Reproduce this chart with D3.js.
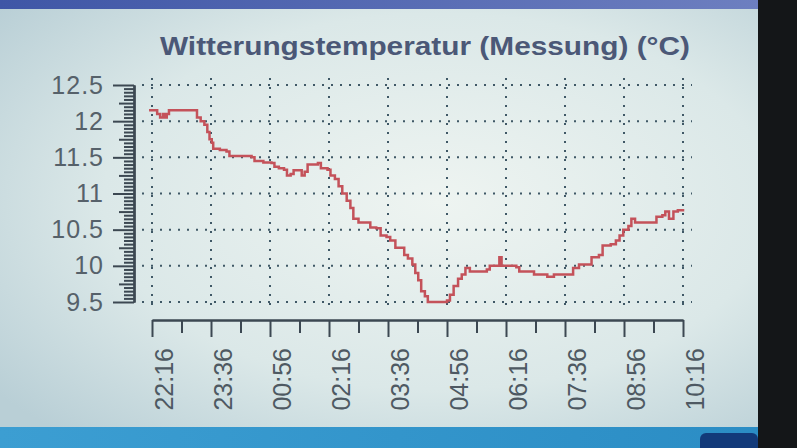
<!DOCTYPE html>
<html><head><meta charset="utf-8">
<script src="https://cdn.jsdelivr.net/npm/d3@7"></script>
<style>html,body{margin:0;padding:0;background:#cfe0e2;overflow:hidden}</style>
</head><body>
<svg id="c" width="797" height="448"></svg>
<script>
const title = "Witterungstemperatur (Messung) (°C)";
const times = ["22:12","22:19","22:23","22:27","22:31","22:33","22:36","22:39","22:50","23:03","23:13","23:17","23:22","23:27","23:31","23:34","23:37","23:39","23:48","23:57","00:01","00:17","00:31","00:35","00:47","00:58","01:02","01:08","01:15","01:19","01:24","01:28","01:35","01:39","01:43","01:47","02:01","02:05","02:14","02:18","02:24","02:29","02:34","02:40","02:45","02:49","02:56","03:07","03:12","03:20","03:26","03:34","03:39","03:46","03:53","03:58","04:03","04:09","04:13","04:17","04:21","04:26","04:30","04:46","04:56","05:00","05:05","05:11","05:16","05:21","05:27","05:40","05:50","05:54","06:06","06:07","06:10","06:23","06:30","06:34","06:47","06:54","07:01","07:12","07:21","07:41","07:47","07:55","08:08","08:12","08:22","08:27","08:38","08:45","08:50","08:55","09:02","09:06","09:11","09:22","09:36","09:40","09:48","09:52","09:57","10:03","10:09","10:16"];
const temps = [12.15,12.15,12.10,12.05,12.10,12.05,12.10,12.15,12.15,12.15,12.15,12.05,12.0,11.95,11.85,11.75,11.7,11.62,11.6,11.58,11.52,11.52,11.5,11.45,11.43,11.42,11.37,11.35,11.33,11.25,11.27,11.32,11.32,11.25,11.3,11.4,11.42,11.35,11.33,11.25,11.2,11.1,11.0,10.9,10.8,10.65,10.6,10.6,10.53,10.52,10.42,10.4,10.35,10.25,10.25,10.15,10.1,10.02,9.9,9.8,9.65,9.58,9.5,9.5,9.52,9.6,9.72,9.82,9.88,9.97,9.92,9.92,9.95,10.0,10.0,10.12,10.0,10.0,9.98,9.92,9.92,9.88,9.88,9.85,9.88,9.88,9.97,10.02,10.02,10.12,10.15,10.28,10.3,10.35,10.42,10.5,10.55,10.65,10.6,10.6,10.6,10.68,10.7,10.75,10.65,10.75,10.77,10.75];
const xTickLabels = ["22:16","23:36","00:56","02:16","03:36","04:56","06:16","07:36","08:56","10:16"];
const yTickLabels = ["9.5","10","10.5","11","11.5","12","12.5"];

function toDate(s){
  const [h,m] = s.split(":").map(Number);
  return new Date(2020,0,h>=12?1:2,h,m);
}
const data = times.map((t,i)=>({t:toDate(t), v:temps[i]}));
const xTicks = xTickLabels.map(toDate);

const svg = d3.select("#c");
const defs = svg.append("defs");
const rg = defs.append("radialGradient").attr("id","bg").attr("cx","55%").attr("cy","45%").attr("r","70%");
rg.append("stop").attr("offset","0%").attr("stop-color","#eef4f1");
rg.append("stop").attr("offset","60%").attr("stop-color","#dbe8e8");
rg.append("stop").attr("offset","100%").attr("stop-color","#b9cfd6");
svg.append("rect").attr("width",797).attr("height",448).attr("fill","url(#bg)");
const tg = defs.append("linearGradient").attr("id","top").attr("x1",0).attr("x2",1);
tg.append("stop").attr("offset","0%").attr("stop-color","#3f56a6");
tg.append("stop").attr("offset","100%").attr("stop-color","#6d7fc0");
svg.append("rect").attr("width",760).attr("height",9).attr("fill","url(#top)");
const bg2 = defs.append("linearGradient").attr("id","bot").attr("x1",0).attr("x2",1);
bg2.append("stop").attr("offset","0%").attr("stop-color","#3c9ed2");
bg2.append("stop").attr("offset","100%").attr("stop-color","#2a8cc4");
svg.append("rect").attr("y",427).attr("width",797).attr("height",21).attr("fill","url(#bot)");
svg.append("rect").attr("x",700).attr("y",433).attr("width",58).attr("height",20).attr("rx",6).attr("fill","#123a7a");
svg.append("rect").attr("x",758).attr("width",39).attr("height",448).attr("fill","#141618");

const x = d3.scaleTime().domain([xTicks[0], xTicks[xTicks.length-1]]).range([152,683]);
const y = d3.scaleLinear().domain([9.5,12.5]).range([302,85]);

// grid
const grid = svg.append("g").attr("stroke","#3f5866").attr("stroke-width",2).attr("stroke-dasharray","2,7");
grid.selectAll("line.h").data(yTickLabels).join("line").attr("class","h")
  .attr("x1",142).attr("x2",692).attr("y1",d=>y(+d)).attr("y2",d=>y(+d));
grid.selectAll("line.v").data(xTicks).join("line").attr("class","v")
  .attr("x1",d=>x(d)).attr("x2",d=>x(d)).attr("y1",78).attr("y2",306);

// y axis
const axCol = "#3c4852";
function styleAxis(g){ g.selectAll("path,line").attr("stroke",axCol).attr("stroke-width",2); }
const minorY = d3.range(0,61).map(i=>9.5+i*0.05).filter(v=>Math.abs((v*2)-Math.round(v*2))>1e-6);
const gy1 = svg.append("g").attr("transform","translate(134,0)")
  .call(d3.axisLeft(y).tickValues(minorY.filter(v=>Math.abs(v*4-Math.round(v*4))>1e-6)).tickSize(10).tickSizeOuter(0).tickFormat(""));
styleAxis(gy1);
const gy2 = svg.append("g").attr("transform","translate(134,0)")
  .call(d3.axisLeft(y).tickValues(minorY.filter(v=>Math.abs(v*4-Math.round(v*4))<1e-6)).tickSize(15).tickSizeOuter(0).tickFormat(""));
styleAxis(gy2);
const gy = svg.append("g").attr("transform","translate(134,0)")
  .call(d3.axisLeft(y).tickValues(yTickLabels.map(Number)).tickSize(21).tickPadding(9).tickSizeOuter(0).tickFormat((d,i)=>yTickLabels[i]));
styleAxis(gy);
gy.selectAll("text").attr("fill","#56616a").attr("font-family","Liberation Sans, Arial, sans-serif").attr("font-size",25).attr("letter-spacing",1);

// x axis
const minorX = xTicks.slice(0,-1).map((d,i)=>new Date((+d + +xTicks[i+1])/2));
const gx1 = svg.append("g").attr("transform","translate(0,320)")
  .call(d3.axisBottom(x).tickValues(minorX).tickSize(13).tickSizeOuter(0).tickFormat(""));
styleAxis(gx1);
const gx = svg.append("g").attr("transform","translate(0,320)")
  .call(d3.axisBottom(x).tickValues(xTicks).tickSize(17).tickSizeOuter(0).tickFormat(""));
styleAxis(gx);
svg.append("g").selectAll("text").data(xTicks).join("text")
  .attr("transform",d=>`translate(${x(d)+21},348) rotate(-90)`)
  .attr("text-anchor","end")
  .attr("fill","#4e5962").attr("font-family","Liberation Sans, Arial, sans-serif").attr("font-size",25)
  .text((d,i)=>xTickLabels[i]);

// line
const line = d3.line().x(d=>x(d.t)).y(d=>y(d.v)).curve(d3.curveStepAfter);
svg.append("path").datum(data).attr("d",line).attr("fill","none")
  .attr("stroke","#c4525a").attr("stroke-width",2.5);

// title
svg.append("text").attr("x",160).attr("y",55).attr("textLength",530).attr("lengthAdjust","spacingAndGlyphs")
  .attr("font-family","Liberation Sans, Arial, sans-serif").attr("font-weight","bold").attr("font-size",26)
  .attr("fill","#4b5877").text(title);
</script>
</body></html>
